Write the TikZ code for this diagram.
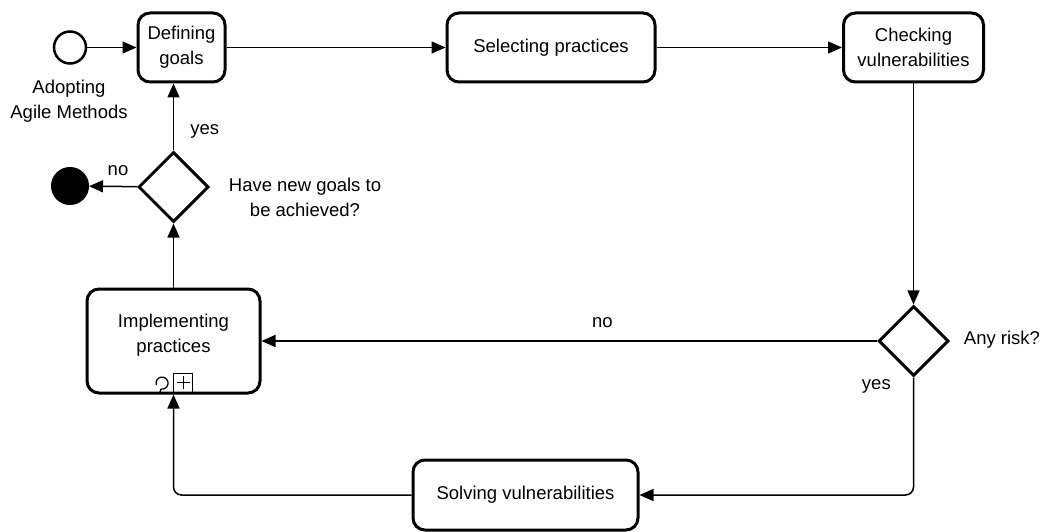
\documentclass[tikz,border=0pt]{standalone}
\usepackage{fontspec}
\setmainfont{Liberation Sans}
\usetikzlibrary{arrows.meta,shapes.geometric}

\begin{document}
\begin{tikzpicture}[x=1pt, y=-1pt, font=\fontsize{18.5pt}{25pt}\selectfont,
	task/.style={draw, line width=3pt, rounded corners=12pt, align=center, inner sep=0pt},
	gate/.style={draw, diamond, line width=3pt, minimum width=70pt, minimum height=70pt, inner sep=0pt},
	lbl/.style={inner sep=0pt, align=center},
	flow/.style={line width=1.5pt, -{Triangle[length=14pt,width=12pt]}}]
	\useasboundingbox (0,0) rectangle (1043,532);
	% events
	\node[draw, circle, line width=2.5pt, minimum size=32pt, inner sep=0pt] (start) at (70,47.5) {};
	\node[lbl] (startLbl) at (69,101) {Adopting\\Agile Methods};
	\node[draw, circle, fill=black, line width=1pt, minimum size=37pt, inner sep=0pt] (finish) at (70,186) {};
	% tasks
	\node[task, minimum width=87pt, minimum height=69pt] (goals) at (181.5,47.5) {Defining\\goals};
	\node[task, minimum width=208pt, minimum height=69pt] (select) at (551,47.5) {Selecting practices};
	\node[task, minimum width=140pt, minimum height=69pt] (check) at (913.5,47.5) {Checking\\vulnerabilities};
	\node[task, minimum width=173pt, minimum height=104pt] (impl) at (173.5,341) {};
	\node[lbl] (implLbl) at (173.5,335) {Implementing\\practices};
	\node[task, minimum width=225pt, minimum height=70pt] (solve) at (525.5,495) {Solving vulnerabilities};
	% markers of the sub-process
	\draw[line width=1.3pt] (161,389) arc[start angle=100, end angle=-200, radius=6];
	\draw[line width=1.3pt] (161,389) -- (160,392);
	\draw[line width=1pt] (173.5,373) rectangle (192.5,392);
	\draw[line width=1pt] (183,376) -- (183,389) (176.5,382.5) -- (189.5,382.5);
	% gateways
	\node[gate] (risk) at (913.5,341) {};
	\node[lbl] (riskLbl) at (1002,340) {Any risk?};
	\node[gate] (newg) at (173.5,187) {};
	\node[lbl] (newgLbl) at (305,197) {Have new goals to\\be achieved?};
	% flows
	\draw[flow] (start) -- (goals);
	\draw[flow] (goals) -- (select);
	\draw[flow] (select) -- (check);
	\draw[flow] (check) -- (risk);
	\draw[flow] (risk) -- node[lbl, pos=0.446, above=13pt] {no} (impl);
	\draw[flow, rounded corners=8pt] (risk) |- node[lbl, pos=0.04, left=22pt] {yes} (solve);
	\draw[flow, rounded corners=8pt] (solve) -| (impl);
	\draw[flow] (impl) -- (newg);
	\draw[flow] (newg) -- node[lbl, pos=0.4, above=10pt] {no} (finish);
	\draw[flow] (newg) -- node[lbl, pos=0.29, right=16pt] {yes} (newg.north |- goals.south);
\end{tikzpicture}
\end{document}
